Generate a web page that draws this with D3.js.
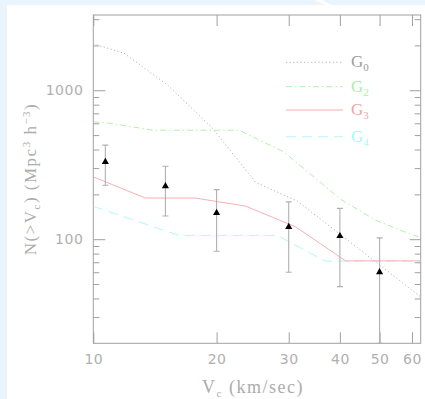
<!DOCTYPE html>
<html>
<head>
<meta charset="utf-8">
<script src="https://cdn.jsdelivr.net/npm/d3@7"></script>
<style>
  body { margin: 0; background: #eaf4fc; }
  svg { display: block; }
  .tick text { font-family: "DejaVu Sans", sans-serif; font-size: 14px; fill: #b0b0b0; letter-spacing: 0.5px; }
  .tick line { stroke: #a0a0a0; }
</style>
</head>
<body>
<div id="chart"></div>
<script>
// Observed points with error bars
const obsV = [10.7, 15, 20, 30, 40, 50];
const obsN = [330, 227, 150, 121, 105, 60];
const obsHi = [428, 309, 215, 178, 161, 102];
const obsLo = [230, 143, 83, 60, 48, 20];

// Model curves (V_c, N)
const g0V = [10, 11.9, 15.2, 19.5, 24.9, 31.5, 63];
const g0N = [2050, 1770, 1080, 560, 241, 180, 41];
const g2V = [10, 11, 14, 22.7, 29.2, 40.2, 48.9, 60.6, 63];
const g2N = [613, 600, 539, 539, 385, 185, 134, 106, 103];
const g3V = [10, 13.4, 17.7, 23.5, 31.2, 41.3, 63];
const g3N = [262, 189, 189, 167, 121, 71.5, 71.5];
const g4V = [10, 16.2, 28.1, 36.9, 63];
const g4N = [166, 106, 106, 71.2, 71.2];

const xTicks = [10, 20, 30, 40, 50, 60];
const yMajor = [100, 1000];
const yMinor = [30, 40, 50, 60, 70, 80, 90, 200, 300, 400, 500, 600, 700, 800, 900, 2000, 3000];

const W = 425, H = 399;
const mLeft = 93.3, mRight = 420.7, mTop = 15, mBottom = 343.3;

const svg = d3.select('#chart').append('svg')
    .attr('width', W)
    .attr('height', H);

// page background with white panel
svg.append('rect').attr('width', W).attr('height', H).attr('fill', '#eaf4fc');
svg.append('rect').attr('x', 7).attr('y', 5).attr('width', W - 7).attr('height', H - 5).attr('fill', '#fff');
svg.append('polygon').attr('points', '314,0 322,0 331,5 326,5').attr('fill', '#fff');

const x = d3.scaleLog().domain([10, 63]).range([mLeft, mRight]);
const y = d3.scaleLog().domain([20, 3200]).range([mBottom, mTop]);

// frame
svg.append('rect')
    .attr('x', mLeft).attr('y', mTop)
    .attr('width', mRight - mLeft).attr('height', mBottom - mTop)
    .attr('fill', 'none').attr('stroke', '#a0a0a0');

// bottom axis with labels, ticks pointing in
svg.append('g')
    .attr('transform', `translate(0,${mBottom})`)
    .call(d3.axisBottom(x).tickValues(xTicks).tickFormat(d3.format('d')).tickSizeInner(-11).tickSizeOuter(0).tickPadding(11))
    .call(g => g.select('.domain').remove());

// top axis, ticks only
svg.append('g')
    .attr('transform', `translate(0,${mTop})`)
    .call(d3.axisTop(x).tickValues(xTicks).tickFormat('').tickSizeInner(-11).tickSizeOuter(0))
    .call(g => g.select('.domain').remove());

// left axis
svg.append('g')
    .attr('transform', `translate(${mLeft},0)`)
    .call(d3.axisLeft(y).tickValues(yMajor).tickFormat(d3.format('d')).tickSizeInner(-12).tickSizeOuter(0).tickPadding(10))
    .call(g => g.select('.domain').remove());
svg.append('g')
    .attr('transform', `translate(${mLeft},0)`)
    .call(d3.axisLeft(y).tickValues(yMinor).tickFormat('').tickSizeInner(-6).tickSizeOuter(0))
    .call(g => g.select('.domain').remove());

// right axis
svg.append('g')
    .attr('transform', `translate(${mRight},0)`)
    .call(d3.axisRight(y).tickValues(yMajor).tickFormat('').tickSizeInner(-11).tickSizeOuter(0))
    .call(g => g.select('.domain').remove());
svg.append('g')
    .attr('transform', `translate(${mRight},0)`)
    .call(d3.axisRight(y).tickValues(yMinor).tickFormat('').tickSizeInner(-6).tickSizeOuter(0))
    .call(g => g.select('.domain').remove());

// clip for curves
svg.append('clipPath').attr('id', 'plot')
    .append('rect').attr('x', mLeft).attr('y', mTop).attr('width', mRight - mLeft).attr('height', mBottom - mTop);

const line = d3.line().x(d => x(d[0])).y(d => y(d[1]));
const series = [
    { name: '0', v: g0V, n: g0N, color: '#b4b4b4', dash: '1.2,2.4', text: '#9c9c9c', ly: 62.3 },
    { name: '2', v: g2V, n: g2N, color: '#b0f2a8', dash: '6,3,1.5,3', text: '#a8f0a0', ly: 86.7 },
    { name: '4', v: g4V, n: g4N, color: '#b4f6fa', dash: '10,6', text: '#a8f8f8', ly: 136.7 },
    { name: '3', v: g3V, n: g3N, color: '#f6b0b0', dash: null, text: '#f4a4a4', ly: 110 }
];

const plot = svg.append('g').attr('clip-path', 'url(#plot)');
series.forEach(s => {
    plot.append('path')
        .datum(s.v.map((v, i) => [v, s.n[i]]))
        .attr('d', line)
        .attr('fill', 'none')
        .attr('stroke', s.color)
        .attr('stroke-width', 1)
        .attr('stroke-dasharray', s.dash);
});

// error bars
const obs = obsV.map((v, i) => ({ v, n: obsN[i], hi: obsHi[i], lo: obsLo[i] }));
const eb = plot.selectAll('.err').data(obs).enter().append('g').attr('class', 'err')
    .attr('stroke', '#b0b0b0').attr('stroke-width', 1.1);
eb.append('line')
    .attr('x1', d => x(d.v)).attr('x2', d => x(d.v))
    .attr('y1', d => y(d.hi)).attr('y2', d => y(d.lo));
eb.append('line')
    .attr('x1', d => x(d.v) - 3).attr('x2', d => x(d.v) + 3)
    .attr('y1', d => y(d.hi)).attr('y2', d => y(d.hi));
eb.append('line')
    .attr('x1', d => x(d.v) - 3).attr('x2', d => x(d.v) + 3)
    .attr('y1', d => y(d.lo)).attr('y2', d => y(d.lo));

plot.selectAll('.pt').data(obs).enter().append('path')
    .attr('class', 'pt')
    .attr('d', d3.symbol(d3.symbolTriangle, 22))
    .attr('transform', d => `translate(${x(d.v)},${y(d.n)})`)
    .attr('fill', '#000');

// legend
const leg = svg.append('g');
series.forEach(s => {
    leg.append('line')
        .attr('x1', 286).attr('x2', 343)
        .attr('y1', s.ly).attr('y2', s.ly)
        .attr('stroke', s.color).attr('stroke-width', 1)
        .attr('stroke-dasharray', s.dash);
    const t = leg.append('text')
        .attr('x', 351).attr('y', s.ly + 5)
        .attr('fill', s.text)
        .style('font-family', '"Liberation Serif", serif')
        .style('font-size', '17px');
    t.append('tspan').text('G');
    t.append('tspan').attr('dy', 4).style('font-size', '11px').text(s.name);
});

// axis titles
const xt = svg.append('text')
    .attr('x', 253).attr('y', 393)
    .attr('text-anchor', 'middle')
    .attr('fill', '#acacac')
    .style('font-family', '"Liberation Serif", serif')
    .style('font-size', '18px')
    .style('letter-spacing', '1.5px');
xt.append('tspan').text('V');
xt.append('tspan').attr('dy', 4).style('font-size', '11px').text('c');
xt.append('tspan').attr('dy', -4).text(' (km/sec)');

const yt = svg.append('text')
    .attr('transform', 'translate(36,179) rotate(-90)')
    .attr('text-anchor', 'middle')
    .attr('fill', '#acacac')
    .style('font-family', '"Liberation Serif", serif')
    .style('font-size', '17px')
    .style('letter-spacing', '1.5px');
yt.append('tspan').text('N(>V');
yt.append('tspan').attr('dy', 4).style('font-size', '11px').text('c');
yt.append('tspan').attr('dy', -4).text(')  (Mpc');
yt.append('tspan').attr('dy', -6).style('font-size', '11px').text('3');
yt.append('tspan').attr('dy', 6).text(' h');
yt.append('tspan').attr('dy', -6).style('font-size', '11px').text('−3');
yt.append('tspan').attr('dy', 6).text(')');
</script>
</body>
</html>
